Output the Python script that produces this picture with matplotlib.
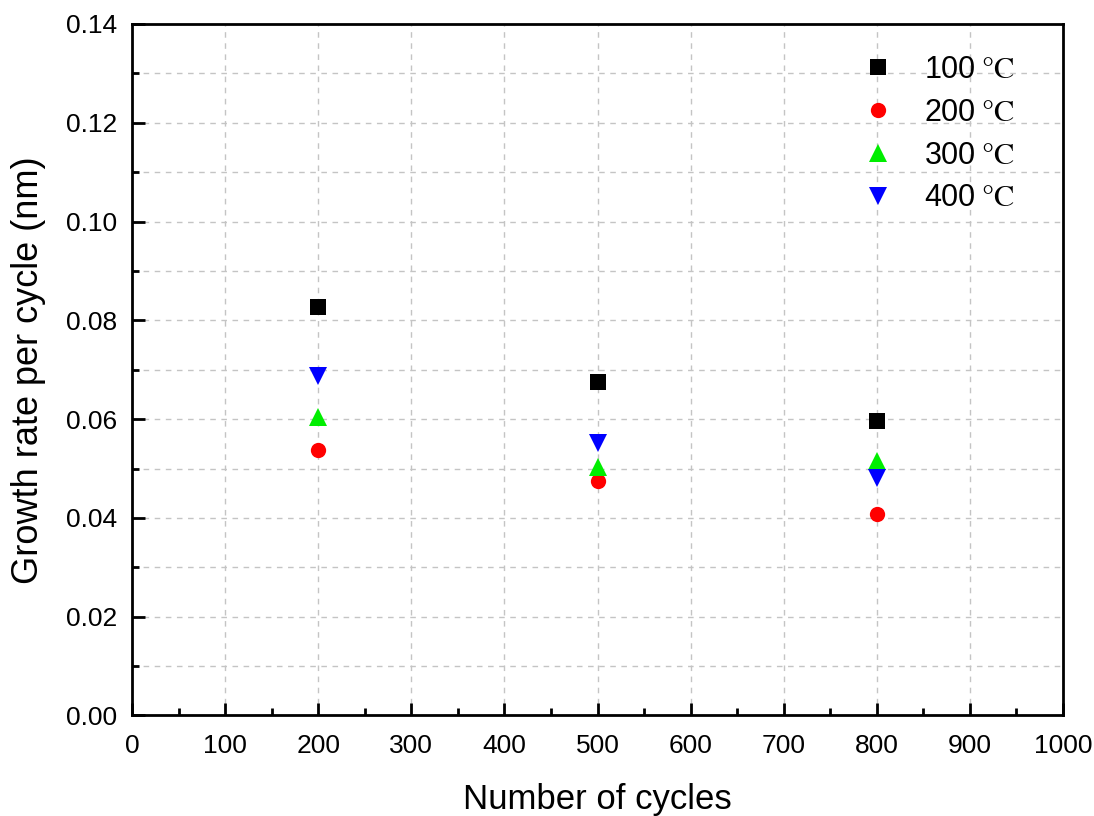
import matplotlib

matplotlib.use("Agg")
import matplotlib.pyplot as plt
from matplotlib.ticker import MultipleLocator

# growth rate per cycle (nm) at each cycle count, one list per deposition temperature
cycles = [200, 500, 800]
temperatures = ["100", "200", "300", "400"]
rate_100 = [0.0828, 0.0676, 0.0596]
rate_200 = [0.0537, 0.0474, 0.0408]
rate_300 = [0.0605, 0.0504, 0.0516]
rate_400 = [0.0687, 0.0552, 0.0481]

styles = [
    ("s", "black", 11),
    ("o", "red", 11),
    ("^", "#00ee00", 12.5),
    ("v", "blue", 12.5),
]

plt.rcParams.update(
    {
        "font.family": ["Liberation Sans", "DejaVu Sans"],
        "mathtext.fontset": "stix",
    }
)

fig = plt.figure(figsize=(10.94, 8.16), dpi=100, facecolor="white")
ax = fig.add_axes([0.1207, 0.1232, 0.851, 0.8474])

for temp, rates, (marker, color, size) in zip(
    temperatures, [rate_100, rate_200, rate_300, rate_400], styles
):
    ax.plot(
        cycles,
        rates,
        linestyle="none",
        marker=marker,
        color=color,
        markersize=size,
        markeredgewidth=0,
        label=f"{temp}$\\;\\mathrm{{°C}}$",
        zorder=3,
    )

ax.set_xlim(0, 1000)
ax.set_ylim(0, 0.14)
ax.xaxis.set_major_locator(MultipleLocator(100))
ax.xaxis.set_minor_locator(MultipleLocator(50))
ax.yaxis.set_major_locator(MultipleLocator(0.02))
ax.yaxis.set_minor_locator(MultipleLocator(0.01))
ax.yaxis.set_major_formatter(lambda v, pos: f"{v:.2f}")

grid_style = dict(color="#c4c4c4", linestyle=(0, (4, 4)), linewidth=1.0)
ax.grid(axis="x", which="major", **grid_style)
ax.grid(axis="y", which="both", **grid_style)
ax.set_axisbelow(True)

for spine in ax.spines.values():
    spine.set_linewidth(2.0)
ax.tick_params(which="major", direction="in", length=9, width=2, labelsize=19)
ax.tick_params(axis="x", which="major", pad=13)
ax.tick_params(axis="y", which="major", pad=11)
ax.tick_params(which="minor", direction="in", length=5, width=2)

ax.set_xlabel("Number of cycles", fontsize=25, labelpad=18)
ax.set_ylabel("Growth rate per cycle (nm)", fontsize=26, labelpad=14)

ax.legend(
    loc="upper left",
    bbox_to_anchor=(0.739, 0.995),
    frameon=False,
    fontsize=22,
    labelspacing=0.42,
    handletextpad=0.5,
    markerscale=1.0,
)

fig.savefig("out.png", dpi=100, facecolor="white")
